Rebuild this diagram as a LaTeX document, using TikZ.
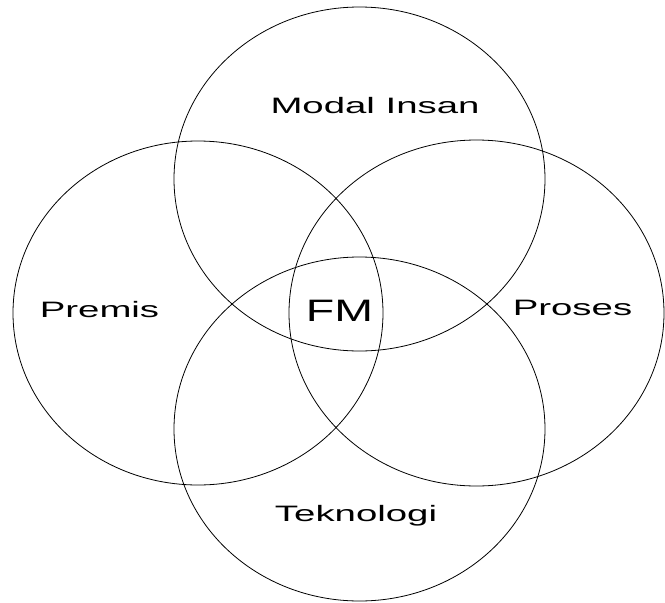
\documentclass[tikz,border=0pt]{standalone}
\usepackage{fontspec}
\setmainfont{Liberation Sans}
\usepackage{graphicx}
\begin{document}
\begin{tikzpicture}[x=1pt,y=-1pt,
  ring/.style={draw=black,line width=0.8pt},
  lab/.style={anchor=base,inner sep=0pt,font=\fontsize{22.3}{26}\selectfont},
  big/.style={anchor=base,inner sep=0pt,font=\fontsize{31}{36}\selectfont}]
\useasboundingbox (0,0) rectangle (665,603);
\draw[ring] (359.5,179) ellipse [x radius=185.5,y radius=172];
\draw[ring] (198,313) ellipse [x radius=185,y radius=172];
\draw[ring] (476.5,313) ellipse [x radius=187.5,y radius=173];
\draw[ring] (359.5,429) ellipse [x radius=185.5,y radius=172];
\node[lab] (mi) at (375,113) {\scalebox{1.72}[1]{Modal Insan}};
\node[lab] (pr) at (99.5,317) {\scalebox{1.72}[1]{Premis}};
\node[lab] (ps) at (572.5,315) {\scalebox{1.72}[1]{Proses}};
\node[lab] (tk) at (356,521.7) {\scalebox{1.72}[1]{Teknologi}};
\node[big] (fm) at (339.5,321.7) {\scalebox{1.5}[1]{FM}};
\end{tikzpicture}
\end{document}
